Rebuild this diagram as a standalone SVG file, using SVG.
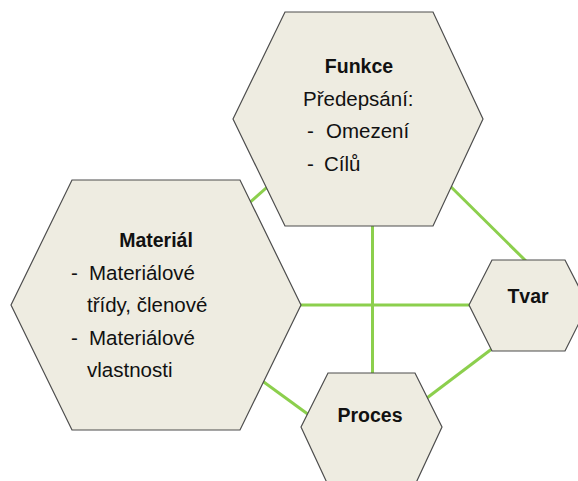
<svg xmlns="http://www.w3.org/2000/svg" width="578" height="481" viewBox="0 0 578 481">
  <style>
    .hex { fill: #EEECE1; stroke: #4d4d4d; stroke-width: 1.2; }
    .link { stroke: #8CCF4D; stroke-width: 3; fill: none; }
    text { font-family: "Liberation Sans", Arial, sans-serif; fill: #111111; }
    .title { font-size: 19.5px; font-weight: bold; }
    .body { font-size: 20.5px; }
  </style>
  <rect width="578" height="481" fill="#ffffff"/>

  <!-- connectors run underneath the hexagons -->
  <g id="connectors">
    <line class="link" x1="230" y1="220" x2="290" y2="167"/>
    <line class="link" x1="440" y1="176" x2="535" y2="270"/>
    <line class="link" x1="372.5" y1="200" x2="372.5" y2="400"/>
    <line class="link" x1="290" y1="305" x2="480" y2="305"/>
    <line class="link" x1="250" y1="372" x2="320" y2="423"/>
    <line class="link" x1="415" y1="407" x2="497" y2="345"/>
  </g>

  <g id="funkce">
    <polygon class="hex" points="233,119 285,12 433,12 483,119 433,226 285,226"/>
    <text class="title" x="359" y="73" text-anchor="middle">Funkce</text>
    <text class="body" x="303" y="106">Předepsání:</text>
    <text class="body" x="307" y="138">-</text>
    <text class="body" x="326" y="138">Omezení</text>
    <text class="body" x="307" y="171">-</text>
    <text class="body" x="324" y="171">Cílů</text>
  </g>

  <g id="material">
    <polygon class="hex" points="11,305 72,180 240,180 301,305 240,430 72,430"/>
    <text class="title" x="156" y="247" text-anchor="middle">Materiál</text>
    <text class="body" x="71" y="280">-</text>
    <text class="body" x="89" y="280">Materiálové</text>
    <text class="body" x="87" y="312">třídy, členové</text>
    <text class="body" x="71" y="345">-</text>
    <text class="body" x="89" y="345">Materiálové</text>
    <text class="body" x="87" y="377">vlastnosti</text>
  </g>

  <g id="tvar">
    <polygon class="hex" points="469,305 492,260 565,260 588,305 565,351 492,351"/>
    <text class="title" x="528" y="303" text-anchor="middle">Tvar</text>
  </g>

  <g id="proces">
    <polygon class="hex" points="301,427 328,373 415,373 442,427 415,485 328,485"/>
    <text class="title" x="370" y="422" text-anchor="middle">Proces</text>
  </g>
</svg>
